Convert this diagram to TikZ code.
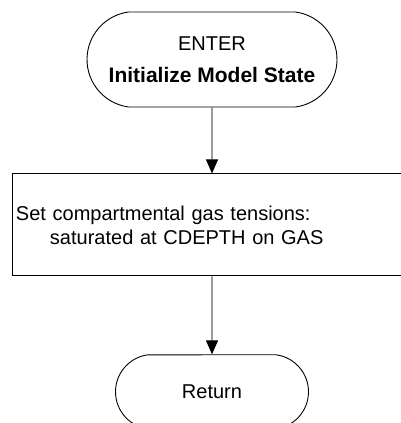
\documentclass[tikz,border=0pt]{standalone}
\usepackage{fontspec}
\setmainfont{Liberation Sans}
\usetikzlibrary{arrows.meta,positioning,shapes.misc}
\tikzset{
        terminal/.style={draw, rounded rectangle, rounded rectangle arc length=165,
            line width=0.9pt, align=center, inner sep=0pt},
        process/.style={draw, rectangle, line width=0.9pt, align=left,
            inner xsep=4pt, inner ysep=0pt},
        flowline/.style={draw=black!60, line width=1.1pt,
            -{Triangle[length=14pt, width=12pt, color=black]}},
    }

\begin{document}
\begin{tikzpicture}[x = 1pt, y = 1pt, font=\fontsize{20}{24}\selectfont]
    \useasboundingbox (0,0) rectangle (401,423);
    \node[terminal, minimum width=250pt, minimum height=95pt] (enter) at (212,363.5)
        {ENTER\\[8pt]\fontsize{21}{24}\selectfont\textbf{Initialize Model State}};
    \node[process, below=66pt of enter, minimum width=400pt, minimum height=102pt,
        text width=392pt] (setgas)
        {Set compartmental gas tensions:\\\hspace*{34pt}saturated at CDEPTH on GAS};
    \node[terminal, below=78pt of setgas, minimum width=193pt, minimum height=74pt] (ret)
        {Return};
    \draw[flowline] (enter) -- (setgas);
    \draw[flowline] (setgas) -- (ret);
\end{tikzpicture}
\end{document}
